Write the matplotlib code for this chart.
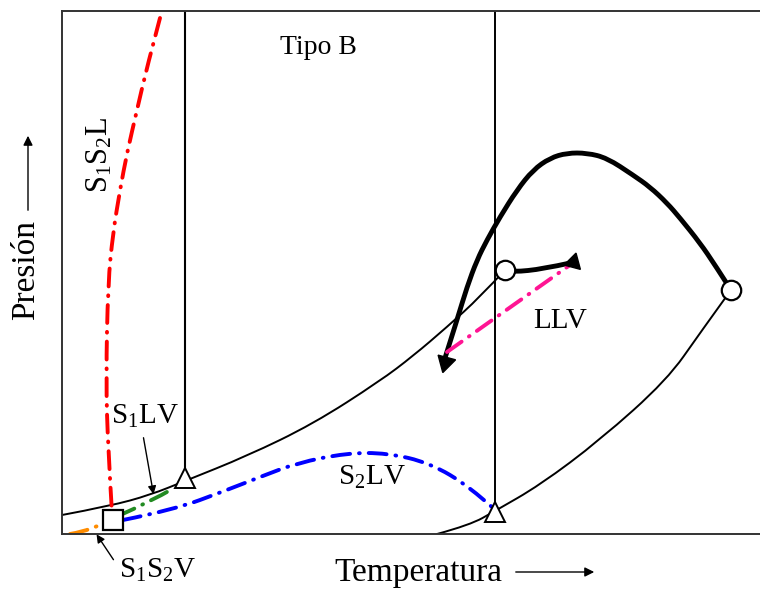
import matplotlib
matplotlib.use("Agg")
import matplotlib.pyplot as plt
from matplotlib.path import Path
from matplotlib.patches import PathPatch

plt.rcParams['font.family'] = ['Liberation Serif', 'DejaVu Serif']
plt.rcParams['mathtext.fontset'] = 'custom'
plt.rcParams['mathtext.rm'] = 'Liberation Serif'
plt.rcParams['mathtext.it'] = 'Liberation Serif:italic'

# schematic units: T from left spine, P from bottom spine
# S1LV / S2LV three-phase line (thin black, left)
t_slv = [0, 48, 88, 123, 185, 251, 318, 351, 385, 418, 443]
p_slv = [19, 28, 39, 53, 78, 110, 153, 178, 207, 237, 264]
# second three-phase line (thin black, right)
t_r = [375, 408, 433, 478, 538, 605, 638, 669]
p_r = [0, 9, 23, 49, 94, 154, 201, 244]
# critical line (thick)
t_crit = [669, 653, 638, 618, 605, 588, 571, 545, 525, 505, 488, 471, 455,
          438, 425, 415, 405, 395, 383]
p_crit = [244, 269, 291, 316, 331, 347, 359, 376, 381, 381, 376, 364, 344,
          317, 294, 274, 247, 214, 176]
# short critical line from UCEP
t_short = [443, 451, 481, 508]
p_short = [263, 262, 265, 271]
# LLV
t_llv = [385, 508]
p_llv = [182, 269]
# S1S2L
t_ssl = [98, 85, 75, 65, 58, 51, 46, 44, 46, 50]
p_ssl = [516, 467, 424, 381, 344, 301, 251, 154, 87, 21]
# S1LV (green)
t_s1lv = [56, 88, 112]
p_s1lv = [18, 32, 46]
# S1S2V (orange)
t_ssv = [8, 20, 38, 46]
p_ssv = [0, 2, 9, 12]
# S2LV (blue)
t_s2lv = [61, 111, 165, 198, 235, 285, 325, 368, 408, 431]
p_s2lv = [14, 24, 44, 57, 71, 81, 81, 71, 47, 26]

# special points
quad_pt = (51, 14)
tri1 = (123, 56)
tri2 = (433, 22)
circ1 = (443, 264)
circ2 = (669, 244)
end_up = (511, 272)
end_down = (383, 172)


def smooth(ax, t, p, **kw):
    # quadratic b-spline style path through the read points
    pts = list(zip(t, p))
    verts = [pts[0]]
    codes = [Path.MOVETO]
    if len(pts) == 2:
        verts.append(pts[1])
        codes.append(Path.LINETO)
    else:
        for i in range(1, len(pts) - 1):
            if i < len(pts) - 2:
                end = ((pts[i][0] + pts[i + 1][0]) / 2, (pts[i][1] + pts[i + 1][1]) / 2)
            else:
                end = pts[-1]
            verts += [pts[i], end]
            codes += [Path.CURVE3, Path.CURVE3]
    patch = PathPatch(Path(verts, codes), facecolor='none', capstyle='round',
                      joinstyle='round', **kw)
    ax.add_patch(patch)


fig = plt.figure(figsize=(7.6, 5.89), dpi=100)
ax = fig.add_axes([62 / 760, 55 / 589, 698 / 760, 523 / 589])
ax.set_xlim(0, 698)
ax.set_ylim(0, 523)
ax.set_xticks([])
ax.set_yticks([])
ax.spines['right'].set_visible(False)
for s in ['left', 'top', 'bottom']:
    ax.spines[s].set_linewidth(1.4)
    ax.spines[s].set_color('#333333')

dd = dict(lw=2.8, linestyle=(0, (4.6, 2.3, 0.2, 2.3)))

# vertical lines
ax.plot([tri1[0], tri1[0]], [tri1[1], 523], color='black', lw=1.5)
ax.plot([tri2[0], tri2[0]], [tri2[1], 523], color='black', lw=1.4)

smooth(ax, t_slv, p_slv, edgecolor='black', lw=1.4)
smooth(ax, t_r, p_r, edgecolor='black', lw=1.4)
smooth(ax, t_crit, p_crit, edgecolor='black', lw=3.5)
smooth(ax, t_short, p_short, edgecolor='black', lw=3.5)

smooth(ax, t_llv, p_llv, edgecolor='#ff1493', **dd)
smooth(ax, t_ssl, p_ssl, edgecolor='#ff0000', **dd)
smooth(ax, t_s1lv, p_s1lv, edgecolor='#228b22', **dd)
smooth(ax, t_ssv, p_ssv, edgecolor='#ff8c00', **dd)
smooth(ax, t_s2lv, p_s2lv, edgecolor='#0000ff', **dd)

# markers
ax.plot(*quad_pt, marker='s', ms=14, mfc='white', mec='black', mew=1.6)
ax.plot(*tri1, marker='^', ms=14, mfc='white', mec='black', mew=1.4)
ax.plot(*tri2, marker='^', ms=14, mfc='white', mec='black', mew=1.4)
ax.plot(*circ1, marker='o', ms=14, mfc='white', mec='black', mew=1.6)
ax.plot(*circ2, marker='o', ms=14, mfc='white', mec='black', mew=1.6)
ax.plot(*end_up, marker=(3, 0, -15), ms=14, color='black')
ax.plot(*end_down, marker=(3, 0, 165), ms=15, color='black')

# labels
ax.text(256, 486, 'Tipo B', fontsize=20, ha='center', va='center')
ax.text(38, 379, r'$\mathrm{S_1S_2L}$', fontsize=22, rotation=90,
        ha='center', va='center')
ax.text(83, 118, r'$\mathrm{S_1LV}$', fontsize=21, ha='center', va='center')
ax.text(310, 57, r'$\mathrm{S_2LV}$', fontsize=21, ha='center', va='center')
ax.text(498, 213, 'LLV', fontsize=21, ha='center', va='center')
ax.text(96, -36, r'$\mathrm{S_1S_2V}$', fontsize=21, ha='center',
        va='center', clip_on=False)

arr = dict(arrowstyle='-|>', color='black', lw=1.0, mutation_scale=12)
ax.annotate('', xy=(92, 37), xytext=(81, 99), arrowprops=arr)
ax.annotate('', xy=(33, 2), xytext=(53, -28), arrowprops=arr,
            annotation_clip=False)

# axis labels with arrows
fig.text(26 / 760, 1 - 270 / 589, 'Presión', fontsize=24, rotation=90,
         ha='center', va='center')
fig.text(418 / 760, 1 - 573 / 589, 'Temperatura', fontsize=24,
         ha='center', va='center')
ax.annotate('', xy=(28 / 760, 1 - 133 / 589), xytext=(28 / 760, 1 - 213 / 589),
            xycoords='figure fraction', textcoords='figure fraction',
            arrowprops=dict(arrowstyle='-|>', color='black', lw=1.0,
                            mutation_scale=14))
ax.annotate('', xy=(597 / 760, 1 - 572 / 589), xytext=(513 / 760, 1 - 572 / 589),
            xycoords='figure fraction', textcoords='figure fraction',
            arrowprops=dict(arrowstyle='-|>', color='black', lw=1.0,
                            mutation_scale=14))

fig.savefig('out.png', dpi=100)
